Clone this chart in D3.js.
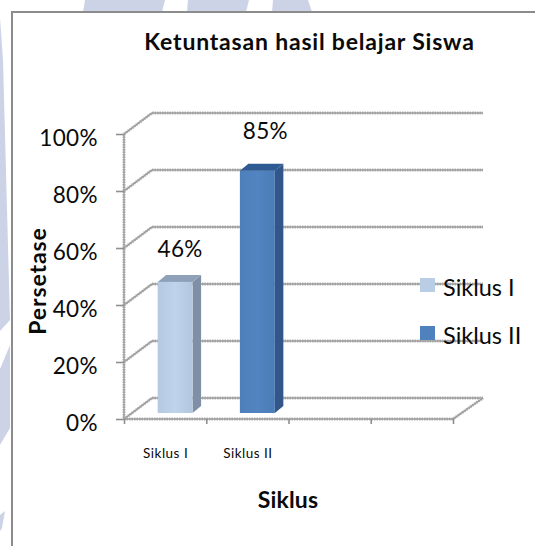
<!DOCTYPE html>
<html>
<head>
<meta charset="utf-8">
<script src="https://cdnjs.cloudflare.com/ajax/libs/d3/7.8.5/d3.min.js"></script>
<style>
html,body{margin:0;padding:0;background:#fff;overflow:hidden}
svg{display:block}
</style>
</head>
<body>
<svg id="c" width="535" height="546" font-family="Lato,sans-serif" fill="#0a0a0a"></svg>
<script>
const categories = ["Siklus I", "Siklus II", "", ""];
const seriesNames = ["Siklus I", "Siklus II"];
const values = [46, 85];
const valueTicks = [0, 20, 40, 60, 80, 100];
const barColors = ["#b9cde5", "#4f81bd"];
const sideColors = ["#7f8fa5", "#30578a"];
const topColors = ["#8fa1b8", "#2f5a92"];
const chartTitle = "Ketuntasan hasil belajar Siswa";
const xTitle = "Siklus";
const yTitle = "Persetase";

const svg = d3.select("#c");
const defs = svg.append("defs");
defs.append("filter").attr("id","soft").append("feGaussianBlur").attr("stdDeviation",0.45);
barColors.forEach((c,i)=>{
  const g = defs.append("linearGradient").attr("id","bar"+i);
  const c0=d3.color(c);
  g.append("stop").attr("offset","0%").attr("stop-color",c0.darker(0.05));
  g.append("stop").attr("offset","50%").attr("stop-color",c0.brighter(0.08));
  g.append("stop").attr("offset","100%").attr("stop-color",c0.darker(0.1));
});

// background watermark behind the chart frame
const wm = svg.append("g").attr("fill","#cdd3e6");
["M83,12L85,0L165,0L162,12Z","M187,12L188,0L249,0L246,12Z","M272,12L273,0L308,0L312,12Z",
 "M0,18L3,60L10,320L0,331Z","M0,369L10,345L10,428L0,445Z","M0,515L5,511L2,528L0,531Z"
].forEach(d=>wm.append("path").attr("d",d));

// frame
svg.append("rect").attr("x",12).attr("y",12).attr("width",540).attr("height",550)
  .attr("fill","#fff").attr("stroke","#8c8c8c").attr("stroke-width",2);

const x0=124, x1=453, yBase=419, yTop=134;
const depth={dx:28,dy:-21};
const barOff={dx:10,dy:-6}, barDepth={dx:8.5,dy:-7};
const y=d3.scaleLinear().domain([0,100]).range([yBase,yTop]);
const x=d3.scaleBand().domain(d3.range(categories.length)).range([x0,x1]);
const xEdge=d3.scaleLinear().domain([0,categories.length]).range([x0,x1]);

const grid=svg.append("g").attr("filter","url(#soft)").attr("fill","none");
const line=d3.line();
const gridPaths=[
  ...valueTicks.map(t=>[[x0,y(t)],[x0+depth.dx,y(t)+depth.dy],[x1+depth.dx+2,y(t)+depth.dy]]),
  [[x0,yBase],[x1,yBase],[x1+depth.dx+2,yBase+depth.dy]],
  [[x0,yTop],[x0,yBase]]
];
gridPaths.forEach(p=>{
  grid.append("path").attr("d",line(p)).attr("stroke","#b4b4b4").attr("stroke-width",3).attr("stroke-dasharray","1.5 1");
  grid.append("path").attr("d",line(p)).attr("stroke","#9c9c9c").attr("stroke-width",1.4);
});

// axes
const yAxis=svg.append("g").attr("transform",`translate(${x0},0)`)
  .call(d3.axisLeft(y).tickValues(valueTicks).tickFormat(d=>d+"%").tickSize(8).tickPadding(18));
yAxis.select(".domain").remove();
yAxis.selectAll("line").attr("stroke","#8f8f8f").attr("stroke-width",1.6);
yAxis.selectAll("text").attr("font-size",22.5).attr("letter-spacing",0.4)
  .attr("font-family","Lato,sans-serif").attr("fill","#0a0a0a").attr("dy","0.62em").attr("y",-2);

const xAxis=svg.append("g").attr("transform",`translate(0,${yBase})`)
  .call(d3.axisBottom(xEdge).ticks(categories.length).tickFormat("").tickSize(5));
xAxis.select(".domain").remove();
xAxis.selectAll("line").attr("stroke","#8f8f8f").attr("stroke-width",1.6);

svg.append("g").selectAll("text").data(categories.slice(0,2)).join("text")
  .attr("x",(d,i)=>x(i)+x.bandwidth()/2+0.5).attr("y",458)
  .attr("text-anchor","middle").attr("font-size",13.5).attr("letter-spacing",0.5).text(d=>d);

// bars
const bw=x.bandwidth()*0.425;
const bars=svg.append("g").attr("filter","url(#soft)").selectAll("g").data(values).join("g");
const bx=i=>x(i)+x.bandwidth()/2+barOff.dx-bw/2;
const by=v=>y(v)+barOff.dy;
bars.append("path").attr("fill",(d,i)=>sideColors[i]).attr("d",(v,i)=>d3.line()([
  [bx(i)+bw,by(v)],[bx(i)+bw+barDepth.dx,by(v)+barDepth.dy],
  [bx(i)+bw+barDepth.dx,by(0)+barDepth.dy],[bx(i)+bw,by(0)]])+"Z");
bars.append("path").attr("fill",(d,i)=>topColors[i]).attr("d",(v,i)=>d3.line()([
  [bx(i),by(v)],[bx(i)+barDepth.dx,by(v)+barDepth.dy],
  [bx(i)+bw+barDepth.dx,by(v)+barDepth.dy],[bx(i)+bw,by(v)]])+"Z");
bars.append("rect").attr("x",(v,i)=>bx(i)).attr("y",v=>by(v)).attr("width",bw)
  .attr("height",v=>by(0)-by(v)).attr("fill",(d,i)=>`url(#bar${i})`);

// value labels
svg.append("g").selectAll("text").data(values).join("text")
  .attr("x",(v,i)=>x(i)+x.bandwidth()/2+(i?18:15)).attr("y",v=>by(v)-(v>60?32:25))
  .attr("text-anchor","middle").attr("font-size",22.5).attr("letter-spacing",0.3).text(v=>v+"%");

// legend
const legend=svg.append("g").selectAll("g").data(seriesNames).join("g")
  .attr("transform",(d,i)=>`translate(420,${278+i*48})`);
legend.append("rect").attr("width",15).attr("height",14).attr("fill",(d,i)=>barColors[i]);
legend.append("text").attr("x",23).attr("y",18).attr("font-size",23.5).text(d=>d);

// titles
svg.append("text").attr("x",309.5).attr("y",50).attr("text-anchor","middle")
  .attr("font-size",23).attr("font-weight",700).attr("letter-spacing",0.8).text(chartTitle);
svg.append("text").attr("x",288).attr("y",508).attr("text-anchor","middle")
  .attr("font-size",23).attr("font-weight",700).attr("letter-spacing",0.2).text(xTitle);
svg.append("text").attr("transform","translate(46,281) rotate(-90)").attr("text-anchor","middle")
  .attr("font-size",23).attr("font-weight",700).attr("letter-spacing",0.9).text(yTitle);
</script>
</body>
</html>
